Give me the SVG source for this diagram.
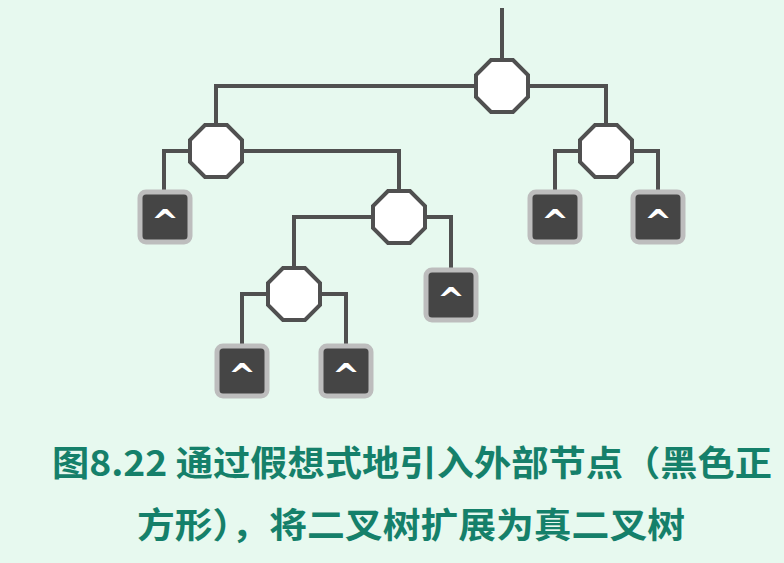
<svg xmlns="http://www.w3.org/2000/svg" width="784" height="563" viewBox="0 0 784 563">
<defs>
<style>
.edge{fill:none;stroke:#505050;stroke-width:4;stroke-linejoin:miter}
.oct{fill:#ffffff;stroke:#505050;stroke-width:4}
.sq{fill:#454545;stroke:#bdbdbd;stroke-width:5}
.car{fill:#ffffff;font-family:"DejaVu Sans",sans-serif;font-weight:bold;font-size:33px;text-anchor:middle}
.cap{fill:#15806a;font-family:"Noto Sans CJK SC","Noto Sans",sans-serif;font-weight:bold;font-size:35px}
</style>
<polygon id="octShape" points="-11,-26 11,-26 26,-11 26,11 11,26 -11,26 -26,11 -26,-11"/>
</defs>
<rect x="0" y="0" width="784" height="563" fill="#e7f9ef"/>
<g id="connectors">
<path class="edge" d="M502,8 V62"/>
<path class="edge" d="M478,86 H216 V127"/>
<path class="edge" d="M527,86 H606 V127"/>
<path class="edge" d="M192,151 H164 V192"/>
<path class="edge" d="M240,151 H399 V193"/>
<path class="edge" d="M582,151 H555 V192"/>
<path class="edge" d="M630,151 H658 V192"/>
<path class="edge" d="M375,217 H294 V270"/>
<path class="edge" d="M423,217 H451 V270"/>
<path class="edge" d="M270,294 H242 V345"/>
<path class="edge" d="M318,294 H346 V345"/>
</g>
<g id="n_root"><use href="#octShape" class="oct" transform="translate(502,86)"/></g>
<g id="n_L"><use href="#octShape" class="oct" transform="translate(216,151)"/></g>
<g id="n_R"><use href="#octShape" class="oct" transform="translate(606,151)"/></g>
<g id="n_M"><use href="#octShape" class="oct" transform="translate(399,217)"/></g>
<g id="n_BL"><use href="#octShape" class="oct" transform="translate(294,294)"/></g>
<g id="e1"><rect class="sq" x="140" y="192" width="50" height="50" rx="6"/><text class="car" x="165" y="234">^</text></g>
<g id="e2"><rect class="sq" x="530" y="192" width="50" height="50" rx="6"/><text class="car" x="555" y="234">^</text></g>
<g id="e3"><rect class="sq" x="633" y="192" width="50" height="50" rx="6"/><text class="car" x="658" y="234">^</text></g>
<g id="e4"><rect class="sq" x="426" y="270" width="50" height="50" rx="6"/><text class="car" x="451" y="312">^</text></g>
<g id="e5"><rect class="sq" x="217" y="346" width="50" height="50" rx="6"/><text class="car" x="242" y="388">^</text></g>
<g id="e6"><rect class="sq" x="321" y="346" width="50" height="50" rx="6"/><text class="car" x="346" y="388">^</text></g>
<g id="caption">
<text class="cap" x="52" y="476" textLength="720" lengthAdjust="spacingAndGlyphs">图8.22 通过假想式地引入外部节点（黑色正</text>
<text class="cap" x="137" y="538" textLength="548" lengthAdjust="spacingAndGlyphs">方形），将二叉树扩展为真二叉树</text>
</g>
</svg>
